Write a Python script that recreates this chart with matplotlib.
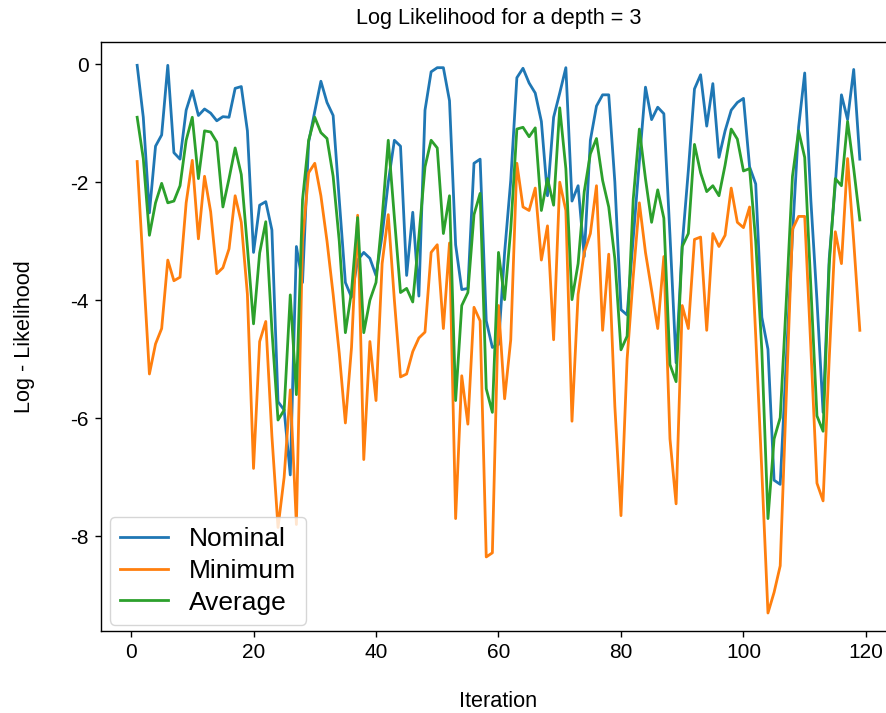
import numpy as np
import matplotlib
matplotlib.use("Agg")
import matplotlib.pyplot as plt

plt.rcParams['font.family'] = ['Liberation Sans', 'DejaVu Sans']
plt.rcParams['axes.unicode_minus'] = False

iterations = np.arange(1, 120)

nominal = [
    -0.02, -0.9, -2.52, -1.39, -1.2, -0.02, -1.5, -1.61, -0.78, -0.45,
    -0.87, -0.76, -0.83, -0.96, -0.89, -0.9, -0.41, -0.38, -1.13, -3.19,
    -2.39, -2.33, -2.81, -5.72, -5.86, -6.96, -3.09, -3.7, -1.32, -0.8,
    -0.29, -0.65, -0.87, -2.3, -3.7, -3.95, -3.32, -3.19, -3.29, -3.58,
    -2.9, -2.0, -1.29, -1.39, -3.58, -2.51, -3.93, -0.78, -0.13, -0.06,
    -0.06, -0.62, -3.06, -3.82, -3.8, -1.68, -1.61, -4.35, -4.8, -4.75,
    -3.19, -1.97, -0.23, -0.07, -0.32, -0.49, -0.97, -2.23, -0.9, -0.49,
    -0.06, -2.32, -2.06, -3.26, -1.29, -0.71, -0.52, -0.52, -2.0, -4.16,
    -4.25, -2.95, -1.65, -0.39, -0.94, -0.73, -0.84, -2.9, -5.06, -3.06,
    -1.8, -0.42, -0.18, -1.05, -0.33, -1.58, -1.13, -0.78, -0.65, -0.58,
    -1.74, -2.03, -4.29, -4.83, -7.05, -7.12, -5.0, -2.9, -1.07, -0.15,
    -2.3, -4.0, -5.9, -3.3, -2.03, -0.52, -0.94, -0.09, -1.61,
]

minimum = [
    -1.65, -3.45, -5.25, -4.74, -4.48, -3.32, -3.67, -3.61, -2.35, -1.63,
    -2.96, -1.9, -2.5, -3.55, -3.45, -3.13, -2.23, -2.68, -3.9, -6.85,
    -4.7, -4.36, -6.3, -7.85, -7.0, -5.52, -7.8, -3.0, -1.84, -1.68,
    -2.23, -3.0, -3.9, -4.9, -6.08, -4.8, -2.56, -6.7, -4.7, -5.7,
    -3.38, -2.55, -4.0, -5.3, -5.25, -4.87, -4.64, -4.54, -3.19, -3.06,
    -4.48, -3.03, -7.7, -5.28, -6.1, -4.12, -4.35, -8.35, -8.28, -4.09,
    -5.67, -4.67, -1.68, -2.42, -2.48, -2.1, -3.32, -2.74, -4.67, -2.0,
    -2.48, -6.05, -3.9, -3.19, -2.87, -2.06, -4.51, -3.22, -5.8, -7.65,
    -5.0, -3.6, -2.35, -3.19, -3.83, -4.48, -3.26, -6.35, -7.45, -4.09,
    -4.48, -2.97, -2.93, -4.51, -2.87, -3.09, -2.9, -2.1, -2.68, -2.77,
    -2.42, -4.6, -6.9, -9.3, -8.95, -8.5, -5.6, -2.8, -2.58, -2.58,
    -4.8, -7.1, -7.4, -5.0, -2.84, -3.38, -1.6, -3.0, -4.51,
]

average = [
    -0.9, -1.6, -2.9, -2.35, -2.02, -2.35, -2.32, -2.06, -1.29, -0.9,
    -1.94, -1.13, -1.15, -1.32, -2.42, -1.94, -1.42, -1.87, -3.1, -4.4,
    -3.2, -2.67, -4.5, -6.03, -5.86, -3.91, -5.6, -2.3, -1.29, -0.9,
    -1.16, -1.26, -1.9, -3.0, -4.55, -3.85, -2.6, -4.55, -4.0, -3.7,
    -2.6, -1.29, -2.6, -3.87, -3.8, -4.03, -2.93, -1.74, -1.29, -1.42,
    -2.87, -2.23, -5.7, -4.09, -3.87, -2.55, -2.19, -5.5, -5.9, -3.19,
    -3.99, -2.8, -1.1, -1.07, -1.23, -1.08, -2.48, -1.94, -2.39, -0.74,
    -1.77, -3.99, -3.38, -2.16, -1.52, -1.26, -1.97, -2.42, -3.3, -4.84,
    -4.61, -2.29, -1.1, -1.94, -2.68, -2.13, -2.61, -5.09, -5.38, -3.09,
    -2.87, -1.36, -1.84, -2.16, -2.06, -2.23, -1.71, -1.1, -1.27, -1.81,
    -1.77, -3.0, -4.85, -7.7, -6.35, -5.99, -4.0, -1.9, -1.13, -1.58,
    -3.77, -5.96, -6.22, -3.4, -1.94, -2.06, -0.97, -1.77, -2.64,
]

fig = plt.figure(figsize=(8.87, 7.13), dpi=100)
ax = fig.add_axes([0.1139, 0.1154, 0.8962, 0.8261])

ax.plot(iterations, nominal, color='#1f77b4', lw=2.0, label='Nominal')
ax.plot(iterations, minimum, color='#ff7f0e', lw=2.0, label='Minimum')
ax.plot(iterations, average, color='#2ca02c', lw=2.0, label='Average')

ax.set_xlim(-4.9, 124.9)
ax.set_ylim(-9.6, 0.38)
ax.set_xticks([0, 20, 40, 60, 80, 100, 120])
ax.set_yticks([0, -2, -4, -6, -8])
ax.tick_params(labelsize=15, length=4.5, width=1.0, pad=4.5)
for s in ax.spines.values():
    s.set_linewidth(1.0)

ax.set_title('Log Likelihood for a depth = 3', fontsize=15.6, pad=12.5)
ax.set_xlabel('Iteration', fontsize=15.6, labelpad=21)
ax.set_ylabel('Log - Likelihood', fontsize=15.6, labelpad=25)
ax.legend(loc='lower left', bbox_to_anchor=(0.0113, 0.0102), borderaxespad=0,
          fontsize=19, handlelength=1.8, labelspacing=0.3, borderpad=0.38)

fig.savefig('out.png', dpi=100)
